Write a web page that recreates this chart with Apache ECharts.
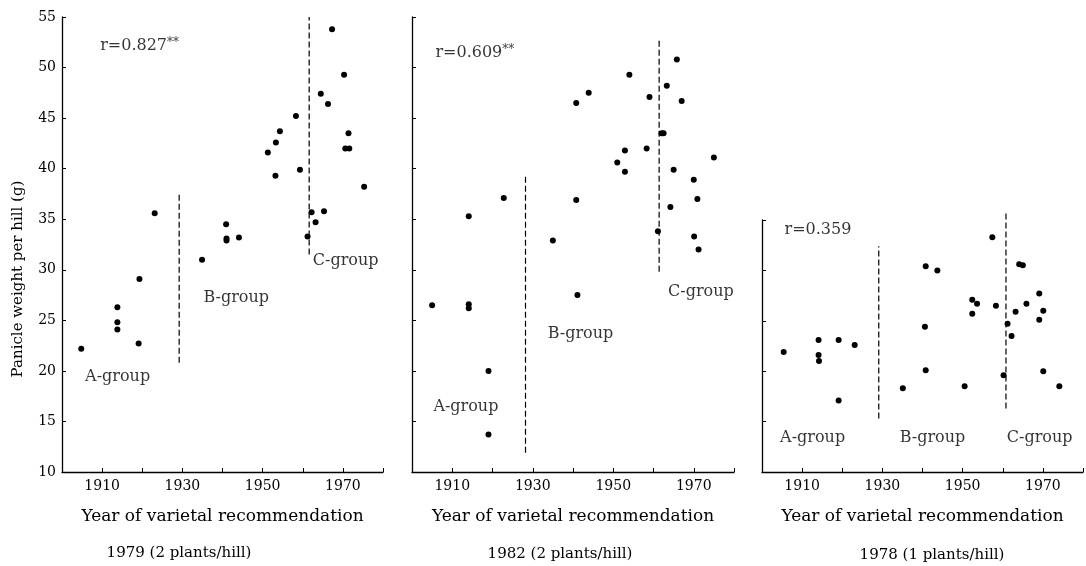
<!DOCTYPE html>
<html>
<head>
<meta charset="utf-8">
<script src="https://cdn.jsdelivr.net/npm/echarts@6/dist/echarts.min.js"></script>
<style>
html,body{margin:0;padding:0;background:#fff;}
#chart{width:1086px;height:566px;}
</style>
</head>
<body>
<div id="chart"></div>
<script>
// ---- data (year, panicle weight per hill g) ----
const panel1Points = [
  [1967.3,53.8],[1970.3,49.3],[1964.5,47.4],[1966.3,46.4],[1958.3,45.2],[1954.3,43.7],
  [1953.3,42.6],[1951.3,41.6],[1971.4,43.5],[1970.6,42.0],[1971.6,42.0],[1959.3,39.9],
  [1953.2,39.3],[1975.3,38.2],[1962.2,35.7],[1965.3,35.8],[1963.2,34.7],[1961.2,33.3],
  [1940.9,34.5],[1941.0,33.1],[1941.0,32.9],[1944.1,33.2],[1934.9,31.0],[1923.1,35.6],
  [1919.3,29.1],[1913.8,26.3],[1913.8,24.8],[1913.8,24.1],[1919.1,22.7],[1904.8,22.2]
];
const panel2Points = [
  [1965.8,50.8],[1954.0,49.3],[1963.3,48.2],[1943.9,47.5],[1940.8,46.5],[1959.0,47.1],
  [1967.0,46.7],[1962.0,43.5],[1962.5,43.5],[1958.3,42.0],[1952.9,41.8],[1951.0,40.6],
  [1952.9,39.7],[1965.0,39.9],[1975.0,41.1],[1970.0,38.9],[1970.9,37.0],[1964.2,36.2],
  [1940.8,36.9],[1922.8,37.1],[1914.1,35.3],[1961.1,33.8],[1970.1,33.3],[1971.2,32.0],
  [1935.0,32.9],[1941.1,27.5],[1905.0,26.5],[1914.1,26.6],[1914.1,26.2],[1919.0,20.0],
  [1919.0,13.7]
];
const panel3Points = [
  [1957.4,33.3],[1940.8,30.4],[1943.7,30.0],[1964.1,30.6],[1965.0,30.5],[1969.1,27.7],
  [1952.4,27.1],[1953.6,26.7],[1958.3,26.5],[1965.9,26.7],[1970.1,26.0],[1963.2,25.9],
  [1952.4,25.7],[1969.1,25.1],[1961.2,24.7],[1962.2,23.5],[1940.6,24.4],[1905.4,21.9],
  [1914.1,23.1],[1914.1,21.6],[1914.2,21.0],[1919.1,23.1],[1923.1,22.6],[1940.8,20.1],
  [1960.2,19.6],[1970.1,20.0],[1935.1,18.3],[1950.5,18.5],[1974.1,18.5],[1919.1,17.1]
];
// group separators: [year, fromValue, toValue]
const panel1Dividers = [[1929.2,20.8,37.7],[1961.6,31.5,55.0]];
const panel2Dividers = [[1928.2,11.9,39.2],[1961.4,29.8,52.8]];
const panel3Dividers = [[1929.1,15.3,32.4],[1960.8,16.3,35.7]];
// annotations: [year, value, text]
const panel1Notes = [[1909.5,52.1,'r=0.827**'],[1905.75,19.4,'A-group'],[1935.25,27.2,'B-group'],[1962.5,30.9,'C-group']];
const panel2Notes = [[1905.8,51.5,'r=0.609**'],[1963.6,27.8,'C-group'],[1933.7,23.7,'B-group'],[1905.3,16.4,'A-group']];
const panel3Notes = [[1905.6,34.0,'r=0.359'],[1904.5,13.35,'A-group'],[1934.3,13.35,'B-group'],[1961.0,13.35,'C-group']];
// axes
const xMin = 1900, xMax = 1980, xStep = 10;
const yStep = 5;
const panelYRange = [[10,55],[10,55],[10,35]];
const panelTitles = ['1979 (2 plants/hill)','1982 (2 plants/hill)','1978 (1 plants/hill)'];
const xAxisName = 'Year of varietal recommendation';
const yAxisName = 'Panicle weight per hill (g)';

// ---- chart ----
const FONT = '"DejaVu Serif", "Liberation Serif", serif';
const INK = '#000';
const grids = [
  {left:62, top:17, width:321, height:455},
  {left:412, top:17, width:322, height:455},
  {left:762, top:220, width:330, height:252}
];
const xAxes = grids.map((g,i)=>({
  type:'value', gridIndex:i, min:xMin, max:xMax, interval:xStep,
  axisLine:{onZero:false, lineStyle:{color:INK, width:1.3}},
  axisTick:{inside:true, length:4, lineStyle:{color:INK}},
  splitLine:{show:false},
  axisLabel:{color:INK, fontFamily:FONT, fontSize:14, margin:7,
    formatter:v => ((v-1910)%20===0 ? String(v) : '')},
  name:xAxisName, nameLocation:'middle', nameGap:36,
  nameTextStyle:{color:INK, fontFamily:FONT, fontSize:17}
}));
const yAxes = grids.map((g,i)=>({
  type:'value', gridIndex:i, min:panelYRange[i][0], max:panelYRange[i][1], interval:yStep,
  axisLine:{lineStyle:{color:INK, width:1.3}},
  axisTick:{inside:true, length:4, lineStyle:{color:INK}},
  splitLine:{show:false},
  axisLabel:{show:i===0, color:INK, fontFamily:FONT, fontSize:14, margin:6}
}));
const pointSets = [panel1Points, panel2Points, panel3Points];
const dividerSets = [panel1Dividers, panel2Dividers, panel3Dividers];
const noteSets = [panel1Notes, panel2Notes, panel3Notes];
const series = [];
pointSets.forEach((pts,i)=>{
  series.push({type:'scatter', xAxisIndex:i, yAxisIndex:i, data:pts,
    symbolSize:6, itemStyle:{color:'#000', opacity:1}, silent:true});
});
dividerSets.forEach((divs,i)=>{
  divs.forEach(d=>{
    series.push({type:'line', xAxisIndex:i, yAxisIndex:i, clip:false,
      data:[[d[0],d[1]],[d[0],d[2]]], symbol:'none', silent:true,
      lineStyle:{color:INK, width:1.2, type:[6,3]}});
  });
});
noteSets.forEach((notes,i)=>{
  series.push({type:'scatter', xAxisIndex:i, yAxisIndex:i, silent:true,
    symbolSize:0.1, itemStyle:{color:'rgba(0,0,0,0)'},
    data:notes.map(n=>({value:[n[0],n[1]], name:n[2]})),
    label:{show:true, position:'right', distance:0, color:INK, fontFamily:FONT, fontSize:16,
      formatter:p => p.name.replace('**','{s|**}'),
      rich:{s:{fontSize:12, fontFamily:FONT, color:INK, verticalAlign:'top', padding:[0,0,6,0]}}},
    labelLayout:{hideOverlap:false}
  });
});
const titleCenters = [[179,553],[560,554],[932,555]];
const graphic = panelTitles.map((t,i)=>({
  type:'text', x:titleCenters[i][0], y:titleCenters[i][1], silent:true,
  style:{text:t, fill:INK, font:'15px '+FONT, textAlign:'center', textVerticalAlign:'middle'}
}));
graphic.push({type:'text', x:18, y:279, rotation:Math.PI/2, silent:true,
  style:{text:yAxisName, fill:INK, font:'15px '+FONT, textAlign:'center', textVerticalAlign:'middle'}});

const chart = echarts.init(document.getElementById('chart'), null, {renderer:'canvas'});
chart.setOption({
  animation:false,
  backgroundColor:'#fff',
  grid:grids,
  xAxis:xAxes,
  yAxis:yAxes,
  series:series,
  graphic:graphic
});
</script>
</body>
</html>
